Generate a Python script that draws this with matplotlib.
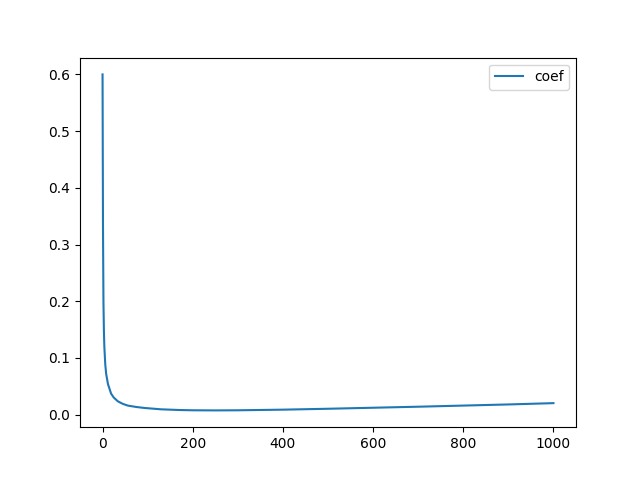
import matplotlib
matplotlib.use("Agg")
import matplotlib.pyplot as plt

# values
steps = [0, 1, 2, 3, 4, 6, 8, 12, 19, 25, 34, 45, 56, 75, 93, 130, 170,
         200, 250, 300, 400, 500, 600, 700, 800, 900, 1000]
coef = [0.600, 0.33, 0.20, 0.148, 0.12, 0.089, 0.072, 0.054, 0.037, 0.030,
        0.0235, 0.019, 0.016, 0.0135, 0.0118, 0.0094, 0.0082,
        0.0077, 0.0075, 0.0077, 0.0088, 0.0104, 0.0122, 0.0140,
        0.0160, 0.0180, 0.0203]

plt.figure(figsize=(6.4, 4.8), dpi=100)
plt.plot(steps, coef, label="coef")
plt.legend()
plt.savefig("out.png")
